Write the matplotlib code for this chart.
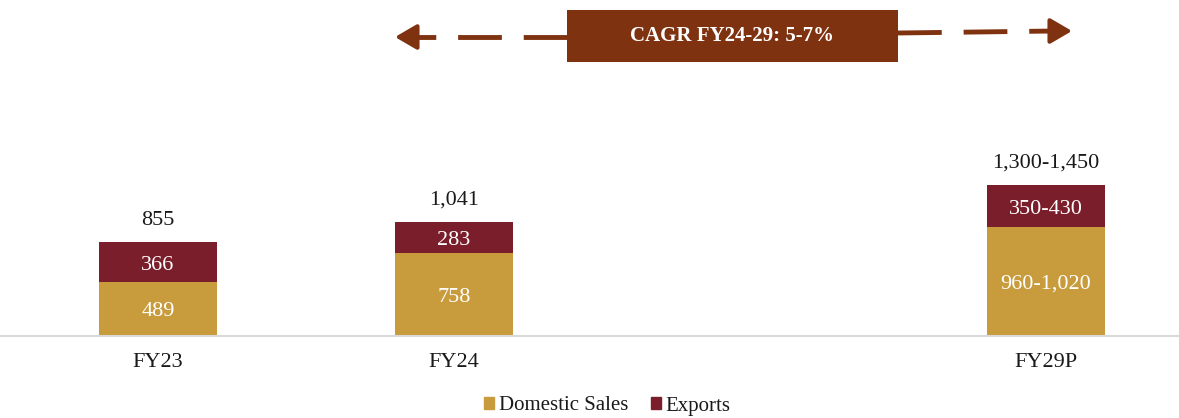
import matplotlib
matplotlib.use("Agg")
import matplotlib.pyplot as plt
from matplotlib.lines import Line2D
from matplotlib.patches import Rectangle, Patch

plt.rcParams["font.family"] = ["Liberation Serif", "DejaVu Serif"]

# data
years = ["FY23", "FY24", "FY29P"]
positions = [0, 1, 3]          # empty slot between FY24 and FY29P
domestic = [489, 758, 990]     # FY29P drawn at mid of range
exports = [366, 283, 385]
domestic_labels = ["489", "758", "960-1,020"]
export_labels = ["366", "283", "350-430"]
total_labels = ["855", "1,041", "1,300-1,450"]
cagr_text = "CAGR FY24-29: 5-7%"

GOLD = "#C89B3C"
MAROON = "#7B1E2B"
BROWN = "#7F3210"
FS = 16

fig = plt.figure(figsize=(11.79, 4.18), dpi=100)
ax = fig.add_axes([0, 82 / 418, 1, 336 / 418])

width = 0.4
ax.bar(positions, domestic, width, color=GOLD, label="Domestic Sales")
ax.bar(positions, exports, width, bottom=domestic, color=MAROON, label="Exports")

for x, d, e, dl, el, tl in zip(positions, domestic, exports,
                               domestic_labels, export_labels, total_labels):
    ax.annotate(dl, (x, d / 2), xytext=(0, -2), textcoords="offset points",
                ha="center", va="center", color="white", fontsize=FS)
    ax.annotate(el, (x, d + e / 2), xytext=(0, -2), textcoords="offset points",
                ha="center", va="center", color="white", fontsize=FS)
    ax.annotate(tl, (x, d + e), xytext=(0, 9), textcoords="offset points",
                ha="center", va="bottom", fontsize=FS, color="#1a1a1a")

ax.set_xlim(-158 / 296, (1179 - 158) / 296)
ax.set_ylim(0, 336 / 0.1097)
ax.set_xticks(positions)
ax.set_xticklabels(years, fontsize=FS, color="#1a1a1a")
ax.tick_params(axis="x", length=0, pad=12)
ax.set_yticks([])
for s in ["top", "right", "left"]:
    ax.spines[s].set_visible(False)
ax.spines["bottom"].set_color("#D9D9D9")
ax.spines["bottom"].set_linewidth(1.5)

# CAGR box and dashed arrows (figure pixel positions, top-down converted)
H = 418
W = 1179
fig.add_artist(Rectangle((567 / W, (H - 62) / H), 331 / W, 52 / H,
                         transform=fig.transFigure, facecolor=BROWN, edgecolor="none"))
fig.text(732 / W, (H - 36) / H, cagr_text, ha="center", va="center",
         color="white", fontsize=15, fontweight="bold")

fig.add_artist(Line2D([567 / W, 412 / W], [(H - 37) / H, (H - 37) / H],
                      transform=fig.transFigure, color=BROWN, lw=3.5,
                      dashes=(9, 4.5)))
fig.add_artist(Line2D([898 / W, 1055 / W], [(H - 33) / H, (H - 31) / H],
                      transform=fig.transFigure, color=BROWN, lw=3.5,
                      dashes=(9, 4.5)))
fig.add_artist(plt.Annotation("", xy=(395 / W, (H - 37) / H), xycoords="figure fraction",
                              xytext=(418 / W, (H - 37) / H), textcoords="figure fraction",
                              arrowprops=dict(arrowstyle="-|>,head_length=0.6,head_width=0.35",
                                              color=BROWN, lw=3, mutation_scale=22,
                                              shrinkA=0, shrinkB=0)))
fig.add_artist(plt.Annotation("", xy=(1072 / W, (H - 31) / H), xycoords="figure fraction",
                              xytext=(1049 / W, (H - 31) / H), textcoords="figure fraction",
                              arrowprops=dict(arrowstyle="-|>,head_length=0.6,head_width=0.35",
                                              color=BROWN, lw=3, mutation_scale=22,
                                              shrinkA=0, shrinkB=0)))

handles = [Patch(color=GOLD), Patch(color=MAROON)]
fig.legend(handles, ["Domestic Sales", "Exports"], loc="center",
           bbox_to_anchor=(0.515, 12 / H), ncol=2, frameon=False, fontsize=15,
           handlelength=0.5, handleheight=0.5, handletextpad=0.2,
           columnspacing=1.1, labelcolor="#1a1a1a", borderaxespad=0,
           borderpad=0)

fig.savefig("out.png", dpi=100)
